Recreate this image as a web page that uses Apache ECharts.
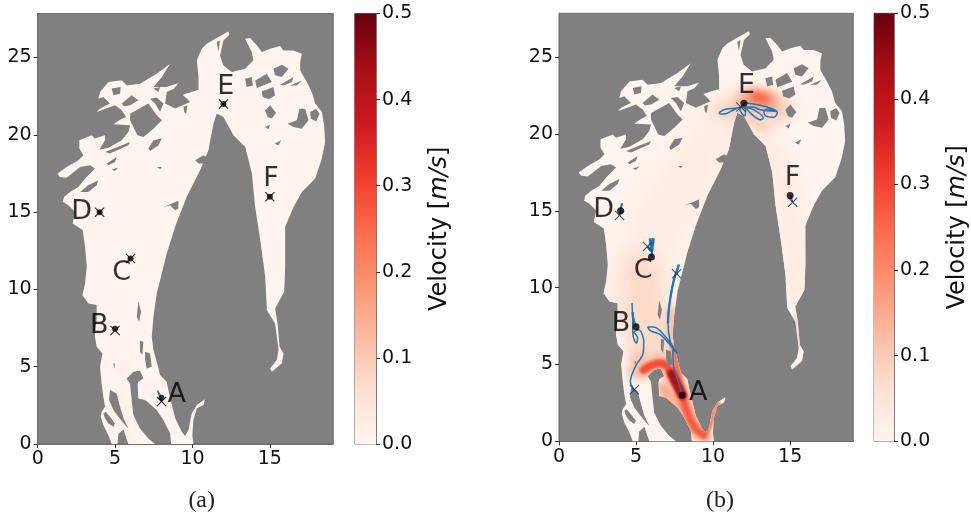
<!DOCTYPE html>
<html><head><meta charset="utf-8">
<style>html,body{margin:0;padding:0;background:#fff}#c{width:971px;height:513px}</style>
<script src="https://cdn.jsdelivr.net/npm/echarts@6/dist/echarts.min.js"></script>
</head><body><div id="c"></div>
<script>
// ---- data (axis units) ----
const xTicks=[0,5,10,15];
const yTicks=[0,5,10,15,20,25];
const xMax=19.1, yMax=27.85;
const velocityMax=0.5;
const stationNames=['A','B','C','D','E','F'];
const stations=[[8,3],[5,7.45],[6,12],[4,15],[12,22],[15,16]];
const endsA=[[8,2.75],[5,7.35],[6,12],[4,15],[12,22],[15,16]];
const endsB=[[7.63,10.9],[4.89,3.35],[5.74,12.68],[3.93,14.7],[11.8,21.75],[15.17,15.56]];
const labelsA=[[8.98,3.17],[3.98,7.63],[5.43,11.05],[2.84,15.0],[12.15,23.1],[15.08,17.13]];
const labelsB=[[9.04,3.17],[4.02,7.65],[5.46,11.07],[2.89,15.04],[12.17,23.14],[15.15,17.14]];
const waterOutline=[[4.78,0],[4.61,0.47],[4.24,1.23],[4.07,1.77],[4.13,2.09],[4.35,2.41],[4.24,3.06],[4.13,3.92],[4.03,5.0],[4.18,5.86],[3.81,6.29],[3.7,6.94],[3.71,7.37],[3.81,8.02],[3.81,8.99],[3.28,9.09],[2.89,9.63],[3.06,10.39],[3.17,11.47],[3.06,12.76],[2.91,13.84],[2.26,14.27],[2.41,15.02],[1.98,15.45],[1.62,15.67],[1.7,15.98],[2.09,16.31],[2.63,16.63],[3.06,17.17],[3.7,17.82],[3.38,18.03],[2.74,17.92],[1.87,17.23],[1.44,17.28],[1.27,17.49],[1.87,17.92],[2.63,18.35],[2.95,18.68],[2.69,19.11],[2.69,19.65],[3.49,19.97],[3.7,19.76],[4.35,19.97],[4.35,19.65],[3.98,19.04],[4.57,19.17],[5.43,19.65],[5.86,20.19],[5.97,20.62],[4.89,20.68],[5.32,20.98],[5.71,21.16],[5.43,21.59],[5.0,21.91],[3.81,21.48],[4.03,21.7],[4.67,22.02],[4.24,22.45],[3.92,22.34],[4.03,22.77],[4.57,23.42],[5.43,23.53],[5.75,23.2],[6.61,23.31],[7.69,23.96],[8.55,24.6],[8.02,23.74],[7.48,23.1],[8.34,23.1],[9.09,23.35],[8.81,22.99],[8.34,22.77],[8.23,22.02],[8.88,21.7],[9.85,22.13],[9.37,22.6],[10.39,22.92],[10.39,23.74],[10.28,24.82],[10.6,25.57],[10.92,25.89],[11.68,26.33],[12.32,26.69],[12.39,26.48],[12.0,26.11],[11.78,25.14],[12.0,24.49],[12.54,24.06],[13.4,24.28],[13.94,24.82],[13.83,25.36],[13.4,26.22],[13.72,26.26],[14.16,25.79],[14.48,25.36],[15.02,25.57],[15.66,25.74],[15.88,25.46],[16.53,25.46],[17.07,25.25],[16.96,24.71],[16.96,24.17],[17.39,23.42],[17.71,22.77],[17.93,22.02],[18.36,21.48],[18.51,20.61],[18.57,19.54],[18.36,18.46],[17.93,17.18],[17.07,16.31],[16.53,15.34],[15.99,14.05],[15.99,11.47],[15.93,9.85],[15.34,8.77],[15.5,7.8],[15.63,6.29],[15.88,5.86],[15.78,5.22],[15.13,4.68],[15.02,4.89],[15.45,5.43],[15.56,6.08],[15.34,7.8],[14.81,8.66],[14.7,10.82],[14.38,13.19],[14.05,15.34],[13.84,17.5],[13.41,19.22],[12.65,19.98],[12.0,21.16],[11.57,21.38],[11.36,20.73],[11.03,19.0],[10.5,17.72],[9.63,15.99],[8.88,14.05],[8.34,12.33],[7.69,9.74],[7.48,8.23],[7.37,6.94],[7.48,6.08],[7.69,5.32],[7.91,4.46],[8.34,4.03],[8.44,3.49],[8.7,2.41],[8.88,1.66],[9.31,0.79],[9.52,0.52],[9.74,0.9],[9.95,1.98],[10.28,2.52],[10.81,2.89],[10.71,2.52],[10.28,2.3],[10.06,1.55],[9.99,0.58],[10.06,0],[8.62,0],[8.55,0.69],[8.12,1.55],[7.69,2.2],[6.94,2.84],[6.5,2.95],[6.46,3.81],[6.5,4.03],[6.83,4.24],[6.61,4.74],[6.18,4.67],[5.75,4.24],[5.97,3.88],[6.07,2.84],[6.18,1.87],[6.61,1.01],[7.15,0.36],[7.58,0],[5.86,0],[5.54,0.95],[5.21,0.64],[5.15,0]];
const islands=[
[[4.67,3.49],[5.1,3.27],[5.32,2.41],[5.54,1.66],[5.86,1.01],[5.64,1.23],[5.21,1.76],[4.89,2.2],[4.61,2.84]],
[[4.24,1.98],[4.39,2.09],[4.67,1.76],[4.99,1.33],[4.89,1.12],[4.57,1.33],[4.35,1.66]],
[[6.51,9.2],[6.68,8.55],[6.55,7.91],[6.4,8.23]],
[[6.61,6.68],[6.83,6.61],[6.76,5.75],[6.61,5.97]],
[[6.94,5.97],[7.26,5.86],[7.37,5.0],[7.04,4.89],[6.94,5.43]],
[[4.89,5.21],[5.0,5.21],[4.95,4.89]],
[[5.97,21.37],[7.15,22.02],[7.69,21.26],[8.02,20.94],[7.48,20.4],[6.83,19.86],[6.44,19.97],[5.97,20.94]],
[[5.43,22.02],[6.07,22.56],[6.51,22.23],[5.97,21.91],[5.58,21.85]],
[[4.78,22.99],[5.36,23.1],[5.32,22.66],[4.89,22.56]],
[[7.26,22.34],[7.69,22.41],[8.12,22.02],[7.91,21.48],[7.58,22.02]],
[[7.48,22.99],[7.91,23.1],[7.8,22.77]],
[[4.35,18.89],[5.97,19.54],[5.86,19.32],[4.67,18.79]],
[[7.15,19.11],[7.48,19.65],[8.02,19.76],[7.8,19.32],[7.26,18.96]],
[[10.17,18.35],[10.71,18.68],[10.92,18.57],[10.71,18.14],[10.39,18.14]],
[[8.12,15.34],[9.09,15.73],[9.09,15.23],[8.88,15.12],[8.55,15.45]],
[[4.46,18.14],[5.1,18.57],[5.0,18.25],[4.57,18.03]],
[[4.78,17.75],[5.21,17.88],[5.0,17.66]],
[[7.69,17.92],[8.02,17.92],[7.91,17.79]],
[[9.42,21.8],[9.67,21.91],[9.59,21.37],[9.46,21.48]],
[[2.74,16.31],[3.27,16.74],[3.92,17.06],[3.81,16.74],[3.27,16.31]],
[[11.57,26.0],[11.78,26.11],[11.68,25.36]],
[[13.4,23.63],[13.83,23.74],[13.9,23.2],[13.51,23.09]],
[[14.05,23.52],[14.8,23.96],[15.13,23.42],[14.69,23.24],[14.16,23.03]],
[[15.23,24.28],[15.77,24.54],[16.2,24.28],[15.77,23.74],[15.34,23.85]],
[[15.66,23.24],[16.53,23.74],[16.42,23.42],[15.88,23.2]],
[[16.31,23.2],[17.07,23.52],[16.74,23.2]],
[[14.48,22.81],[15.23,23.09],[15.34,22.55],[14.91,22.3],[14.54,22.45]],
[[14.69,21.58],[15.02,21.91],[15.4,21.43],[15.13,21.05],[14.85,21.15]],
[[16.14,20.72],[16.74,20.94],[16.91,21.69],[17.28,21.69],[17.5,20.94],[17.07,20.4],[16.53,20.51]],
[[17.6,21.48],[17.99,21.69],[18.21,21.37],[17.99,20.87],[17.65,21.05]],
[[14.69,20.51],[15.02,20.66],[14.91,20.36]],
[[15.3,19.43],[15.73,19.65],[15.56,19.32]]
];
// trajectories, panel (b)
const trajA=[[8,3.02],[7.67,4.1],[7.41,5.09],[7.39,5.96],[7.67,5.74],[6.8,6.93],[6.15,7.43],[5.76,7.43],[5.93,7.2],[6.59,6.93],[7.46,5.96],[7.2,6.6],[7.07,7.7],[7.15,8.78],[7.41,10.3],[7.78,11.5],[7.63,10.9]];
const trajAUpper=[[7.07,7.7],[7.15,8.78],[7.41,10.3],[7.78,11.5]];
const trajB=[[5,7.52],[4.8,8.2],[4.74,9.0],[4.78,8.0],[4.8,6.93],[5.02,6.39],[5.1,6.75],[4.88,7.1],[5.17,7.26],[5.5,6.5],[5.46,5.74],[4.96,4.87],[4.63,3.89],[4.89,3.35]];
const trajBUpper=[[4.78,8.4],[4.85,7.6]];
const trajC=[[6,12.03],[6.15,13.2],[6.03,12.4],[5.9,13.2],[5.98,12.5],[6.08,13.2],[5.95,12.4],[5.74,12.68]];
const trajD=[[4,15],[4.11,15.5],[4.02,15.1],[4.05,15.45],[3.93,14.7]];
const trajE=[[12,22.05],[12.87,21.9],[13.74,21.68],[14.17,21.4],[13.95,21.09],[13.41,21.18],[13.3,21.46],[13.56,21.62],[14.06,21.46],[13.09,21.57],[12.54,21.75],[12.11,21.75],[12.43,21.35],[13.09,20.92],[13.26,21.03],[12.65,21.57],[12,21.75],[11.46,21.68],[10.7,21.57],[10.4,21.35],[10.7,21.29],[11.35,21.57],[11.78,21.75],[12.11,21.57],[12.07,21.18],[11.85,21.35],[11.74,21.62],[11.8,21.75]];
const trajF=[[15.02,16],[15.1,15.7],[15.05,15.9],[15.17,15.56]];
// trajectories, panel (a)
const trajAa=[[8,3],[7.74,3.45],[7.85,3.2],[8,2.75]];
// velocity ridges: path + velocity
const ridgeBody=[[4.6,9],[5.6,12],[7,15],[9,18],[10.8,20.5]], ridgeBodyV=0.028;
const ridgeFjord=[[13,20],[14.5,17],[15.2,13],[15.3,10]], ridgeFjordV=0.024;
const ridgeChannel=[[5.3,11],[5.6,9],[6,7],[6.8,5.5]], ridgeChannelV=0.075;
const ridgeBasin=[[4.6,8.5],[5.2,6.5],[5.3,5.2]], ridgeBasinV=0.055;
const ridgeSouthW=[[5.16,5.62],[4.84,4.42]], ridgeSouthWV=0.11;
const ridgeCoast=[[7.3,8.5],[7.3,6.5]], ridgeCoastV=0.12;
const ridgeInletF=[[15.4,8.2],[15.55,6.2]], ridgeInletFV=0.08;
const ridgeEWest=[[10.4,21.5],[11.5,21.6]], ridgeEWestV=0.07;
const ridgeEHalo=[[11.8,21.8],[13,21.9],[14.2,21.6]], ridgeEHaloV=0.1;
const ridgeESouth=[[12.5,21.1],[13.3,20.4]], ridgeESouthV=0.09;
const ridgeECore=[[12.4,22.4],[13.6,22.2]], ridgeECoreV=0.18;
const ridgeEPeak=[[12.8,22.4],[13.3,22.3]], ridgeEPeakV=0.26;
const ridgeLobe=[[6.79,3.45],[7.23,2.9],[7.99,2.36]], ridgeLobeV=0.15;
const ridgeMainHalo=[[5.49,4.64],[6.03,4.97],[6.68,5.07],[7.12,4.75],[7.55,3.88],[7.99,3.01],[8.31,1.93],[8.85,0.84],[9.4,0.41]], ridgeMainHaloV=0.13;
const ridgeStrip=[[7.44,6.16],[7.66,4.86],[7.99,3.34]], ridgeStripV=0.24;
const ridgeInletE=[[9.4,0.41],[9.79,1.06],[10.05,2.15],[10.27,2.47]], ridgeInletEV=0.2;
const ridgeSouth=[[7.99,3.01],[8.31,1.93],[8.85,0.84],[9.4,0.41]], ridgeSouthV=0.28;
const ridgeArc=[[5.49,4.64],[6.03,4.97],[6.68,5.07],[7.12,4.75],[7.55,3.88],[7.99,3.01]], ridgeArcV=0.29;
const ridgeCore=[[7.3,4.4],[7.55,3.88],[7.99,3.01]], ridgeCoreV=0.42;
// velocity ridges
const ridgeA1=[[5.43,4.89],[5.45,4.8]], ridgeA1V=0.03;
const ridgeA2=[[5.7,0.5],[5.3,3]], ridgeA2V=0.02;
const waterVelocity=0.004;

// ---- styling ----
const FONT='"DejaVu Sans"';
const reds=['#fff5f0','#fee0d2','#fcbba1','#fc9272','#fb6a4a','#ef3b2c','#cb181d','#a50f15','#67000d'];
function velColor(v){
  const t=Math.max(0,Math.min(1,v/velocityMax))*(reds.length-1), i=Math.min(reds.length-2,Math.floor(t)), f=t-i;
  const p=c=>[1,3,5].map(k=>parseInt(c.substr(k,2),16));
  const a=p(reds[i]), b=p(reds[i+1]);
  return 'rgb('+a.map((x,k)=>Math.round(x+(b[k]-x)*f)).join(',')+')';
}
const heatB=[
 [ridgeBody,ridgeBodyV,56,26],[ridgeFjord,ridgeFjordV,28,12],[ridgeBasin,ridgeBasinV,24,14],[ridgeChannel,ridgeChannelV,36,18],[ridgeSouthW,ridgeSouthWV,12,9],
 [ridgeCoast,ridgeCoastV,10,6],[ridgeInletF,ridgeInletFV,4,3],[ridgeEWest,ridgeEWestV,18,12],[ridgeEHalo,ridgeEHaloV,26,14],
 [ridgeESouth,ridgeESouthV,12,8],[ridgeECore,ridgeECoreV,17,10],[ridgeEPeak,ridgeEPeakV,9,6],[ridgeLobe,ridgeLobeV,13,6],
 [ridgeMainHalo,ridgeMainHaloV,17,7],[ridgeStrip,ridgeStripV,6,3],[ridgeInletE,ridgeInletEV,6,2],[ridgeSouth,ridgeSouthV,8,4],
 [ridgeArc,ridgeArcV,8,3],[ridgeCore,ridgeCoreV,9,3]
];
const heatA=[[ridgeA2,ridgeA2V,10,6],[ridgeA1,ridgeA1V,10,7]];

const panels=[
 {left:37.7,top:13.5,w:295.6,h:430.5,cb:354.7,cbw:21.3,heat:heatA,ends:endsA,labels:labelsA,traj:[trajAa],thick:[],dot:6,cross:10,crossC:'#000',cap:'(a)',capX:196.7},
 {left:559,top:13.3,w:294.3,h:428,cb:874,cbw:22,heat:heatB,ends:endsB,labels:labelsB,traj:[trajA,trajB,trajD,trajE,trajF],thick:[trajC,trajAUpper,trajBUpper],dot:7,cross:10,crossC:'#14304f',cap:'(b)',capX:715}
];
const CROSS='path://M0 1.6L1.6 0L10 8.4L18.4 0L20 1.6L11.6 10L20 18.4L18.4 20L10 11.6L1.6 20L0 18.4L8.4 10Z';
const grids=[],xAxes=[],yAxes=[],series=[],titles=[];
const axisCommon={axisLine:{onZero:false,lineStyle:{color:'#6e6e6e',width:1}},axisTick:{length:4,lineStyle:{color:'#333',width:1}},splitLine:{show:false},
  axisLabel:{fontFamily:FONT,fontSize:19,color:'#111',margin:6,showMinLabel:true}};
function tickAxis(o,vals){return Object.assign({},axisCommon,o,{
  axisTick:Object.assign({},axisCommon.axisTick,{customValues:vals}),
  axisLabel:Object.assign({},axisCommon.axisLabel,{customValues:vals})});}
panels.forEach((p,n)=>{
  const g=grids.length;
  grids.push({left:p.left,top:p.top,width:p.w,height:p.h,show:true,backgroundColor:'#808080',borderColor:'#6e6e6e',borderWidth:1});
  xAxes.push(tickAxis({type:'value',gridIndex:g,min:0,max:xMax,position:'bottom'},xTicks));
  yAxes.push(tickAxis({type:'value',gridIndex:g,min:0,max:yMax,position:'left'},yTicks));
  const ax={xAxisIndex:g,yAxisIndex:g,silent:true,animation:false};
  // water
  series.push(Object.assign({type:'custom',name:'water',data:[[0,0]],z:2,renderItem:(prm,api)=>({
    type:'polygon',shape:{points:waterOutline.map(q=>api.coord(q))},style:{fill:velColor(waterVelocity)}})},ax));
  // velocity field
  series.push(Object.assign({type:'custom',name:'velocity',data:[[0,0]],z:3,renderItem:(prm,api)=>({
    type:'group',
    clipPath:{type:'polygon',shape:{points:waterOutline.map(q=>api.coord(q))}},
    children:p.heat.map(r=>({type:'polyline',x:-3000,shape:{points:r[0].map(q=>api.coord(q)),smooth:0.35},
      style:{fill:null,stroke:'#000',lineWidth:r[2],lineCap:'round',lineJoin:'round',shadowBlur:r[3],shadowColor:velColor(r[1]),shadowOffsetX:3000}}))
  })},ax));
  // islands
  series.push(Object.assign({type:'custom',name:'islands',data:[[0,0]],z:4,renderItem:(prm,api)=>({
    type:'group',children:islands.map(h=>({type:'polygon',shape:{points:h.map(q=>api.coord(q))},style:{fill:'#808080'}}))})},ax));
  // trajectories
  p.traj.forEach(t=>series.push(Object.assign({type:'line',data:t,smooth:0.35,symbol:'none',z:5,lineStyle:{color:'#1f77b4',width:1.5}},ax)));
  p.thick.forEach(t=>series.push(Object.assign({type:'line',data:t,smooth:0.35,symbol:'none',z:5,lineStyle:{color:'#1f77b4',width:2.3}},ax)));
  // stations and ends
  series.push(Object.assign({type:'scatter',data:stations,symbol:'circle',symbolSize:p.dot,itemStyle:{color:'#000'},z:7},ax));
  series.push(Object.assign({type:'scatter',data:p.ends,symbol:CROSS,symbolSize:p.cross,itemStyle:{color:p.crossC},z:6},ax));
  // letters
  series.push(Object.assign({type:'scatter',data:p.labels.map((q,i)=>({value:q,name:stationNames[i]})),symbolSize:1,itemStyle:{color:'rgba(0,0,0,0)'},z:8,
    label:{show:true,position:'inside',formatter:'{b}',fontFamily:FONT,fontSize:27,color:'#000'}},ax));
  // colour bar
  const c=grids.length;
  grids.push({left:p.cb,top:p.top,width:p.cbw,height:p.h,show:true,borderColor:'#7a7a7a',borderWidth:1});
  xAxes.push({type:'category',gridIndex:c,data:['v'],show:false});
  yAxes.push({type:'value',gridIndex:c,min:0,max:velocityMax,interval:0.1,position:'right',
    axisLine:{show:true,onZero:false,lineStyle:{color:'#7a7a7a'}},axisTick:{show:true,length:4,lineStyle:{color:'#333'}},splitLine:{show:false},
    axisLabel:{fontFamily:FONT,fontSize:19,color:'#111',margin:6,formatter:v=>v.toFixed(1)},
    name:'{a|Velocity [}{b|m/s}{a|]}',nameLocation:'middle',nameGap:52,nameRotate:90,
    nameTextStyle:{color:'#111',rich:{a:{fontFamily:FONT,fontSize:24,color:'#111'},b:{fontFamily:FONT,fontStyle:'italic',fontSize:24,color:'#111'}}}});
  series.push({type:'bar',xAxisIndex:c,yAxisIndex:c,data:[velocityMax],barWidth:'100%',silent:true,animation:false,
    itemStyle:{color:{type:'linear',x:0,y:1,x2:0,y2:0,colorStops:reds.map((r,i)=>({offset:i/(reds.length-1),color:r}))}}});
  titles.push({text:p.cap,left:p.capX,top:484,textAlign:'center',textStyle:{fontFamily:'"Liberation Serif"',fontSize:24,fontWeight:'normal',color:'#222'}});
});
const chart=echarts.init(document.getElementById('c'),null,{renderer:'canvas'});
chart.setOption({animation:false,backgroundColor:'#fff',title:titles,grid:grids,xAxis:xAxes,yAxis:yAxes,series:series});
</script></body></html>
